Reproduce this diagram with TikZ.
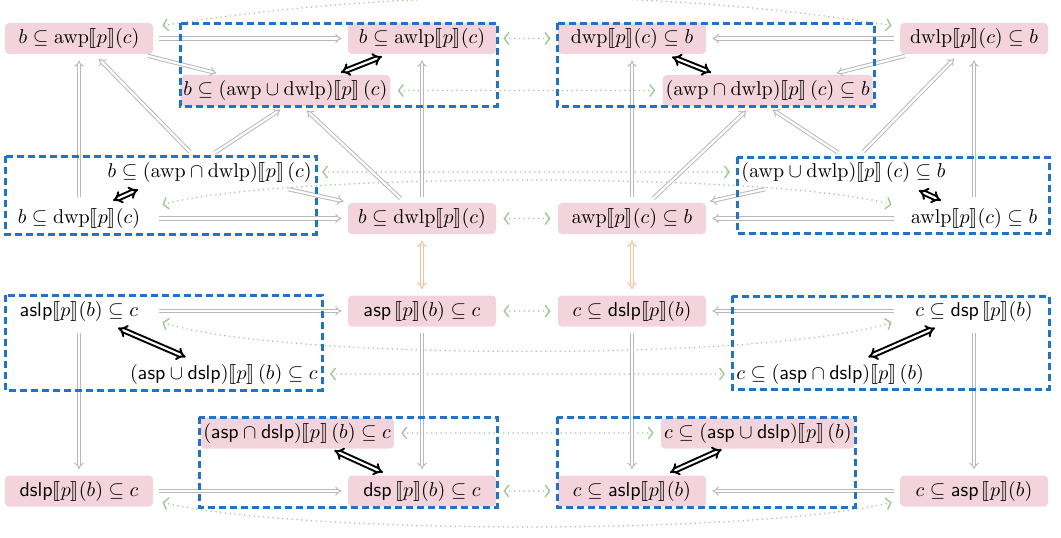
\documentclass[tikz,border=0pt]{standalone}
\usepackage{amssymb}
\usepackage{stmaryrd}
\usetikzlibrary{arrows.meta,calc}
\definecolor{pinkfill}{RGB}{243,212,221}
\definecolor{boxblue}{RGB}{28,116,208}
\definecolor{implgray}{RGB}{185,185,185}
\definecolor{dotgreen}{RGB}{160,202,150}
\definecolor{orangearr}{RGB}{250,194,155}
\newcommand{\sem}[1]{\llbracket #1\rrbracket}
\newcommand{\wop}[1]{\mathrm{#1}}
\newcommand{\sop}[1]{\mathsf{#1}}
\tikzset{
  pk/.style={fill=pinkfill, rounded corners=2pt, minimum width=74pt, minimum height=15.5pt, inner sep=0pt},
  pl/.style={minimum width=74pt, minimum height=15.5pt, inner sep=0pt},
  pkfit/.style={fill=pinkfill, rounded corners=2pt, minimum height=15.5pt, inner xsep=1.5pt, inner ysep=0pt},
  plfit/.style={minimum height=15.5pt, inner xsep=1pt, inner ysep=0pt},
  impl/.style={draw=implgray, double=white, double distance=1.1pt, line width=0.5pt, -{Implies}, shorten >=3pt, shorten <=3pt},
  orng/.style={draw=orangearr, double=white, double distance=1.1pt, line width=0.55pt, {Implies}-{Implies}, shorten >=3pt, shorten <=3pt},
  bidir/.style={draw=black, double=white, double distance=1.1pt, line width=1pt, {Implies}-{Implies}},
  grn/.style={draw=dotgreen, line width=0.85pt, line cap=round, dash pattern=on 0pt off 2.4pt,
    {Straight Barb[length=2.3pt,width=6pt,line width=0.7pt]}-{Straight Barb[length=2.3pt,width=6pt,line width=0.7pt]}},
  grns/.style={grn, shorten >=3.5pt, shorten <=3.5pt},
  bluebox/.style={draw=boxblue, line width=1.5pt, dash pattern=on 3.5pt off 2pt}
}
\begin{document}
\begin{tikzpicture}[x=0.5pt, y=-0.5pt]
\useasboundingbox (0,0) rectangle (1061,537);

% row A
\node[pk] (A1) at (79,38.5) {$b \subseteq \wop{awp}\sem{p}(c)$};
\node[pk] (A2) at (422,38.5) {$b \subseteq \wop{awlp}\sem{p}(c)$};
\node[pk] (A3) at (632,38.5) {$\wop{dwp}\sem{p}(c) \subseteq b$};
\node[pk] (A4) at (974,38.5) {$\wop{dwlp}\sem{p}(c) \subseteq b$};
% row B
\node[pkfit, anchor=west] (B1) at (180,90.5) {$b \subseteq (\wop{awp} \cup \wop{dwlp})\sem{p}\,(c)$};
\node[pkfit, anchor=east] (B2) at (873,90.5) {$(\wop{awp} \cap \wop{dwlp})\sem{p}\,(c) \subseteq b$};
% row C
\node[plfit, anchor=east] (C1) at (314,172) {$b \subseteq (\wop{awp} \cap \wop{dwlp})\sem{p}\,(c)$};
\node[pl] (C2) at (79,218.5) {$b \subseteq \wop{dwp}\sem{p}(c)$};
\node[pk] (C3) at (422,218.5) {$b \subseteq \wop{dwlp}\sem{p}(c)$};
\node[pk] (C4) at (632,218.5) {$\wop{awp}\sem{p}(c) \subseteq b$};
\node[plfit, anchor=west] (C5) at (739,172) {$(\wop{awp} \cup \wop{dwlp})\sem{p}\,(c) \subseteq b$};
\node[pl] (C6) at (974,218.5) {$\wop{awlp}\sem{p}(c) \subseteq b$};
% row D
\node[pl] (D1) at (79,311) {$\sop{aslp}\sem{p}(b) \subseteq c$};
\node[plfit, anchor=east] (D2) at (320,374) {$(\sop{asp} \cup \sop{dslp})\sem{p}\,(b) \subseteq c$};
\node[pk] (D3) at (422,311) {$\sop{asp}\,\sem{p}(b) \subseteq c$};
\node[pk] (D4) at (632,311) {$c \subseteq \sop{dslp}\sem{p}(b)$};
\node[pl] (D5) at (974,311) {$c \subseteq \sop{dsp}\,\sem{p}(b)$};
\node[plfit, anchor=west] (D6) at (734,374) {$c \subseteq (\sop{asp} \cap \sop{dslp})\sem{p}\,(b)$};
% row E
\node[pkfit, anchor=west] (E1) at (200,433) {$(\sop{asp} \cap \sop{dslp})\sem{p}\,(b) \subseteq c$};
\node[pkfit, anchor=east] (E2) at (855,433) {$c \subseteq (\sop{asp} \cup \sop{dslp})\sem{p}\,(b)$};
% row F
\node[pk] (F1) at (79,491) {$\sop{dslp}\sem{p}(b) \subseteq c$};
\node[pk] (F2) at (422,491) {$\sop{dsp}\,\sem{p}(b) \subseteq c$};
\node[pk] (F3) at (632,491) {$c \subseteq \sop{aslp}\sem{p}(b)$};
\node[pk] (F4) at (974,491) {$c \subseteq \sop{asp}\,\sem{p}(b)$};

% green dotted equivalences
\draw[grn] ($(A1.north east)+(9,3)$) .. controls (400,-12) and (654,-12) .. ($(A4.north west)+(-8,3)$);
\draw[grn] ($(C2.north east)+(9,2)$) .. controls (280,172) and (774,172) .. ($(C6.north west)+(-8,2)$);
\draw[grn] ($(D1.south east)+(9,-4.5)$) .. controls (280,361) and (774,361) .. ($(D5.south west)+(-8,-4.5)$);
\draw[grn] ($(F1.south east)+(9,-4.5)$) .. controls (300,535) and (754,535) .. ($(F4.south west)+(-8,-4.5)$);
\draw[grns] (A2) -- (A3);
\draw[grns] (B1) -- (B2);
\draw[grns, shorten <=4pt, shorten >=4.5pt] (C1) -- (C5);
\draw[grns] (C3) -- (C4);
\draw[grns, shorten <=5pt, shorten >=4.5pt] (D2) -- (D6);
\draw[grns] (D3) -- (D4);
\draw[grns] (E1) -- (E2);
\draw[grns] (F2) -- (F3);

% gray implications, upper half
\draw[impl] (A1) -- (A2);
\draw[impl] (A1) -- (B1);
\draw[impl] (A4) -- (A3);
\draw[impl] (A4) -- (B2);
\draw[impl] (C2) -- (A1);
\draw[impl] (C1) -- (A1);
\draw[impl] (C1.north) -- (B1.south);
\draw[impl] (C3) -- (B1);
\draw[impl] (C3) -- (A2);
\draw[impl] (C2) -- (C3);
\draw[impl] (C1) -- (C3);
\draw[impl] (C6) -- (A4);
\draw[impl] (C5) -- (A4);
\draw[impl] (C5.north) -- (B2.south);
\draw[impl] (C4) -- (B2);
\draw[impl] (C4) -- (A3);
\draw[impl] (C6) -- (C4);
\draw[impl] (C5) -- (C4);
% gray implications, lower half
\draw[impl] (D1) -- (D3);
\draw[impl] (D1) -- (F1);
\draw[impl] (D3) -- (F2);
\draw[impl] (D4) -- (F3);
\draw[impl] (D5) -- (D4);
\draw[impl] (D5) -- (F4);
\draw[impl] (F1) -- (F2);
\draw[impl] (F4) -- (F3);

% orange
\draw[orng] (C3) -- (D3);
\draw[orng] (C4) -- (D4);

% black equivalences
\draw[bidir] ($(A2.south)+(-40,2)$) -- ($(B1.north east)+(-50,-2)$);
\draw[bidir] ($(A3.south)+(40,2.5)$) -- ($(B2.north west)+(49,-2)$);
\draw[bidir] ($(C1.south west)+(33,1.5)$) -- ($(C2.north)+(34,-2)$);
\draw[bidir] ($(C5.south east)+(-29,2.5)$) -- ($(C6.north)+(-33,-2)$);
\draw[bidir] ($(D1.south)+(39,1)$) -- ($(D2.north west)+(58,-1)$);
\draw[bidir] ($(D5.south)+(-39,1)$) -- ($(D6.north east)+(-58,-1)$);
\draw[bidir] ($(E1.south east)+(-60,1.5)$) -- ($(F2.north)+(-39,-2.5)$);
\draw[bidir] ($(E2.south west)+(61,0.5)$) -- ($(F3.north)+(38,-2.5)$);

% blue groups
\draw[bluebox] (180,23) rectangle (497,106);
\draw[bluebox] (557,23) rectangle (874,106);
\draw[bluebox] (5,156) rectangle (316,234);
\draw[bluebox] (737,157) rectangle (1049,233);
\draw[bluebox] (5,295) rectangle (322,390);
\draw[bluebox] (732,296) rectangle (1049,389);
\draw[bluebox] (199,417) rectangle (497,507);
\draw[bluebox] (557,417) rectangle (855,507);
\end{tikzpicture}
\end{document}
